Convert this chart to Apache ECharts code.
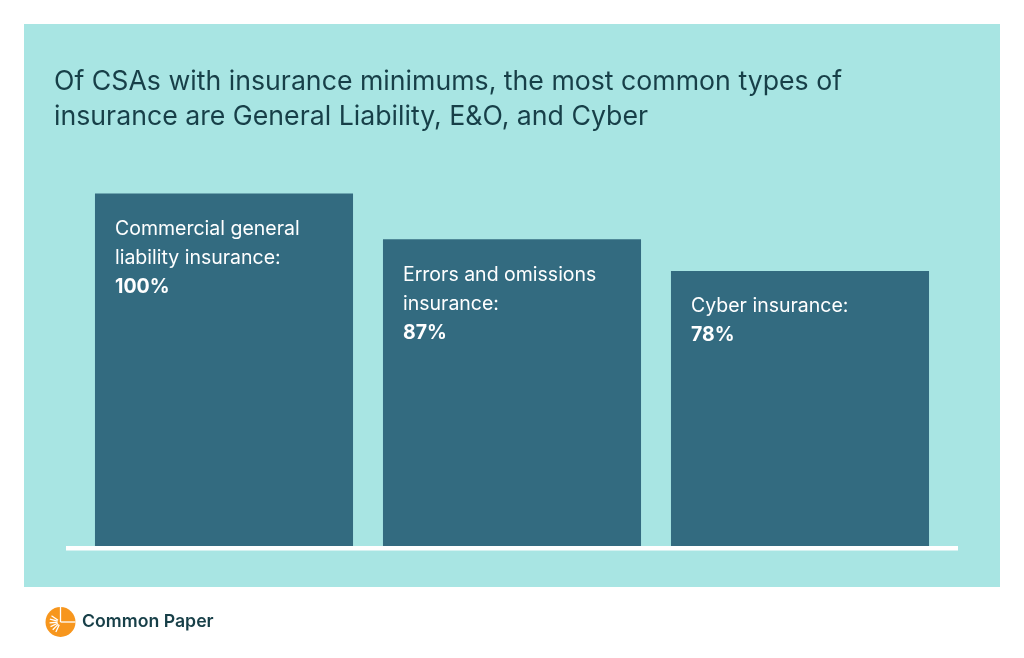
<!DOCTYPE html>
<html>
<head>
<meta charset="utf-8">
<script src="https://cdn.jsdelivr.net/npm/echarts@6/dist/echarts.min.js"></script>
<style>
html,body{margin:0;padding:0;background:#ffffff;}
#chart{width:1024px;height:658px;}
</style>
</head>
<body>
<div id="chart"></div>
<script>
const titleText = 'Of CSAs with insurance minimums, the most common types of\ninsurance are General Liability, E&O, and Cyber';
const categories = ['Commercial general\nliability insurance', 'Errors and omissions\ninsurance', 'Cyber insurance'];
const values = [100, 87, 78];
const brandName = 'Common Paper';

const chart = echarts.init(document.getElementById('chart'), null, {renderer: 'canvas'});

// sunburst rays for logo
const cx = 60.5, cy = 622, r = 15;
const rays = [];
[145, 165, 185, 205, 225, 245].forEach(function (deg) {
  const a = deg * Math.PI / 180;
  rays.push({
    type: 'line', silent: true,
    shape: {x1: cx + Math.cos(a) * 3, y1: cy - Math.sin(a) * 3, x2: cx + Math.cos(a) * 11, y2: cy - Math.sin(a) * 11},
    style: {stroke: '#ffffff', lineWidth: 1.3}
  });
});

const option = {
  backgroundColor: '#ffffff',
  animation: false,
  title: {
    text: titleText,
    left: 54,
    top: 64,
    padding: 0,
    textStyle: {fontFamily: 'Inter', fontSize: 26.7, fontWeight: 'normal', color: '#173f48', lineHeight: 35}
  },
  grid: {left: 80, right: 80, top: 193.5, bottom: 112, containLabel: false},
  xAxis: {
    type: 'category',
    data: categories,
    axisLine: {show: false},
    axisTick: {show: false},
    axisLabel: {show: false}
  },
  yAxis: {
    type: 'value', min: 0, max: 100,
    show: false,
    splitLine: {show: false}
  },
  graphic: [
    {type: 'rect', z: -10, silent: true, shape: {x: 24, y: 24, width: 976, height: 563}, style: {fill: '#a8e5e3'}},
    {type: 'rect', z: 100, silent: true, shape: {x: 66, y: 546, width: 892, height: 4.5}, style: {fill: '#ffffff'}},
    {type: 'circle', silent: true, shape: {cx: cx, cy: cy, r: r}, style: {fill: '#f7961d'}},
    {type: 'line', silent: true, shape: {x1: cx, y1: cy, x2: cx, y2: cy - r}, style: {stroke: '#ffffff', lineWidth: 1.3}},
    {type: 'line', silent: true, shape: {x1: cx, y1: cy, x2: cx + r, y2: cy}, style: {stroke: '#ffffff', lineWidth: 1.3}}
  ].concat(rays).concat([
    {type: 'text', silent: true, left: 82, top: 613,
     style: {text: brandName, fontFamily: 'Inter', fontSize: 17.7, fontWeight: 600, fill: '#173f48'}}
  ]),
  series: [{
    type: 'bar',
    data: values,
    barWidth: '89.6%',
    itemStyle: {color: '#336b80'},
    label: {
      show: true,
      position: [20, 21],
      align: 'left',
      verticalAlign: 'top',
      formatter: function (p) {
        return '{n|' + categories[p.dataIndex].split('\n').join('}\n{n|') + ':}\n{b|' + p.value + '%}';
      },
      rich: {
        n: {fontFamily: 'Inter', fontSize: 19.5, color: '#ffffff', lineHeight: 29},
        b: {fontFamily: 'Inter', fontSize: 19.5, fontWeight: 'bold', color: '#ffffff', lineHeight: 29}
      }
    }
  }]
};
chart.setOption(option);
</script>
</body>
</html>
